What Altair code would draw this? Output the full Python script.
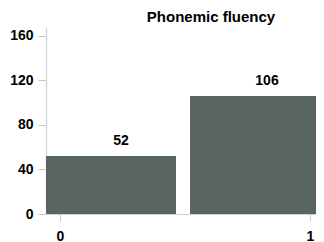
import altair as alt
import pandas as pd

categories = [0, 1]
counts = [52, 106]
bin_start = [-0.056, 0.52]
bin_end = [0.464, 1.056]
y_ticks = [0, 40, 80, 120, 160]
x_ticks = [0, 1]

df = pd.DataFrame({"cat": categories, "count": counts, "x0": bin_start, "x1": bin_end})
df["mid"] = [(a + b) / 2 for a, b in zip(bin_start, bin_end)]

font = "Liberation Sans"
xscale = alt.Scale(domain=[-0.056, 1.024], nice=False, zero=False)
yscale = alt.Scale(domain=[0, 168], nice=False)

bars = alt.Chart(df).mark_rect(color="#5a6560", clip=True).encode(
    x=alt.X("x0:Q", scale=xscale,
            axis=alt.Axis(values=x_ticks, title=None, format="d", grid=False,
                          domainColor="#d0d0d0", tickColor="#c8c8c8", tickSize=7,
                          labelFont=font, labelFontSize=14, labelFontWeight="bold",
                          labelColor="#000000", labelPadding=8)),
    x2="x1:Q",
    y=alt.Y("count:Q", scale=yscale,
            axis=alt.Axis(values=y_ticks, title=None, grid=False,
                          domainColor="#d8d8d8", domainWidth=1.5, tickColor="#c8c8c8", tickSize=8,
                          labelFont=font, labelFontSize=14, labelFontWeight="bold",
                          labelColor="#000000", labelPadding=5)),
    y2=alt.datum(0),
)

labels = alt.Chart(df).mark_text(font=font, fontSize=14, fontWeight="bold", color="#000000",
                                 baseline="bottom", dy=-8, dx=10).encode(
    x=alt.X("mid:Q", scale=xscale),
    y=alt.Y("count:Q", scale=yscale),
    text=alt.Text("count:Q"),
)

chart = (bars + labels).properties(
    width=270, height=187,
    autosize=alt.AutoSizeParams(type="none"),
    padding={"left": 38, "right": 0, "top": 19, "bottom": 28},
    title=alt.TitleParams("Phonemic fluency", font=font, fontSize=15, fontWeight="bold",
                          color="#000000", anchor="middle", dx=30, offset=2),
).configure_view(stroke=None)

chart.save("out.html", embed_options={"renderer": "svg", "actions": False})
